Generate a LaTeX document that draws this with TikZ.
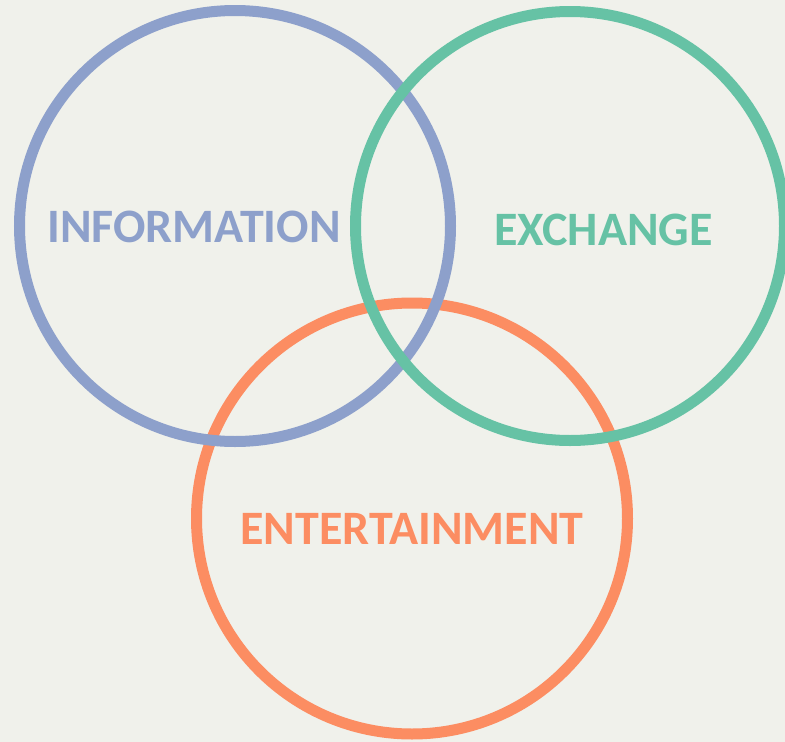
\documentclass[tikz,border=0pt]{standalone}
\usepackage{fontspec}
\setmainfont{Carlito}
\definecolor{infoblue}{HTML}{8DA0CB}
\definecolor{exchgreen}{HTML}{66C2A5}
\definecolor{entorange}{HTML}{FC8D62}
\definecolor{paper}{HTML}{F0F1EB}
\tikzset{
  ring/.style={line width=11pt},
  word/.style={font=\fontsize{48}{50}\selectfont\bfseries, inner sep=0pt, anchor=base}
}
\begin{document}
\begin{tikzpicture}[x=1pt,y=-1pt]
    \useasboundingbox (0,0) rectangle (785,742);
    \clip (0,0) rectangle (785,742);
    \fill[paper] (0,0) rectangle (785,742);

    \draw[ring,entorange] (412,518.5) circle(215.5);
    \draw[ring,infoblue] (235,226) circle(215.5);
    \draw[ring,exchgreen] (570,226) circle(214.5);

    \node[word,text=infoblue] (info) at (194,242) {INFORMATION};
    \node[word,text=exchgreen] (exch) at (603.5,245) {EXCHANGE};
    \node[word,text=entorange] (ent) at (412,544) {ENTERTAINMENT};
  \end{tikzpicture}
\end{document}
